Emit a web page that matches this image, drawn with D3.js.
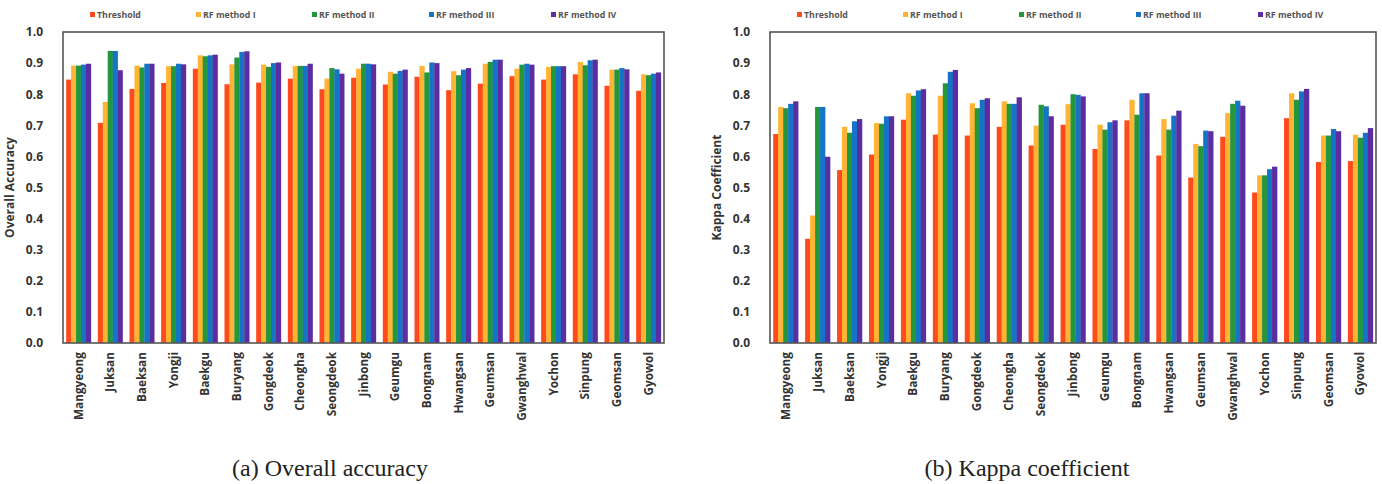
<!DOCTYPE html>
<html>
<head>
<meta charset="utf-8">
<script src="https://cdn.jsdelivr.net/npm/d3@7/dist/d3.min.js"></script>
<style>
  body { margin: 0; background: #fff; }
  svg { display: block; }
</style>
</head>
<body>
<svg class="chart"></svg>
<script>
// sites (x categories)
var sites = ["Mangyeong", "Juksan", "Baeksan", "Yongji", "Baekgu", "Buryang", "Gongdeok",
    "Cheongha", "Seongdeok", "Jinbong", "Geumgu", "Bongnam", "Hwangsan", "Geumsan",
    "Gwanghwal", "Yochon", "Sinpung", "Geomsan", "Gyowol"];

var seriesNames = ["Threshold", "RF method I", "RF method II", "RF method III", "RF method IV"];
var seriesColors = ["#ff4a1c", "#ffb533", "#24963e", "#1674c6", "#5b2da0"];
var yTicks = [0, 0.1, 0.2, 0.3, 0.4, 0.5, 0.6, 0.7, 0.8, 0.9, 1.0];

// (a) overall accuracy
var oaThreshold = [0.847, 0.708, 0.817, 0.836, 0.882, 0.832, 0.837, 0.850, 0.816, 0.853, 0.831, 0.856, 0.813, 0.834, 0.858, 0.847, 0.864, 0.827, 0.811];
var oaRF1 = [0.892, 0.775, 0.892, 0.890, 0.925, 0.896, 0.895, 0.891, 0.850, 0.882, 0.872, 0.891, 0.874, 0.898, 0.882, 0.888, 0.904, 0.879, 0.864];
var oaRF2 = [0.892, 0.939, 0.886, 0.890, 0.922, 0.918, 0.888, 0.891, 0.884, 0.898, 0.866, 0.870, 0.861, 0.904, 0.895, 0.890, 0.893, 0.879, 0.861];
var oaRF3 = [0.895, 0.939, 0.898, 0.898, 0.925, 0.936, 0.900, 0.891, 0.880, 0.898, 0.875, 0.902, 0.879, 0.911, 0.898, 0.890, 0.909, 0.884, 0.866];
var oaRF4 = [0.898, 0.877, 0.898, 0.896, 0.927, 0.938, 0.902, 0.898, 0.866, 0.896, 0.879, 0.900, 0.884, 0.911, 0.895, 0.890, 0.911, 0.880, 0.870];

// (b) kappa coefficient
var kThreshold = [0.672, 0.335, 0.556, 0.606, 0.718, 0.670, 0.667, 0.695, 0.635, 0.702, 0.624, 0.716, 0.603, 0.532, 0.663, 0.484, 0.723, 0.582, 0.585];
var kRF1 = [0.759, 0.410, 0.695, 0.707, 0.803, 0.795, 0.771, 0.777, 0.699, 0.768, 0.702, 0.782, 0.720, 0.640, 0.739, 0.539, 0.803, 0.667, 0.670];
var kRF2 = [0.755, 0.759, 0.676, 0.705, 0.795, 0.835, 0.755, 0.769, 0.766, 0.800, 0.686, 0.734, 0.686, 0.633, 0.769, 0.539, 0.782, 0.667, 0.660];
var kRF3 = [0.769, 0.759, 0.713, 0.729, 0.812, 0.872, 0.782, 0.769, 0.761, 0.798, 0.710, 0.803, 0.731, 0.683, 0.779, 0.559, 0.809, 0.688, 0.676];
var kRF4 = [0.777, 0.599, 0.720, 0.729, 0.816, 0.878, 0.787, 0.790, 0.729, 0.793, 0.716, 0.803, 0.747, 0.681, 0.763, 0.567, 0.817, 0.681, 0.691];

var W = 1382, H = 484;
var svg = d3.select(".chart").attr("width", W).attr("height", H);

drawPanel({left: 63, right: 664, top: 32, bottom: 343,
    yTitle: "Overall Accuracy", caption: "(a) Overall accuracy", captionX: 330,
    series: [oaThreshold, oaRF1, oaRF2, oaRF3, oaRF4]});
drawPanel({left: 770, right: 1376, top: 32, bottom: 343,
    yTitle: "Kappa Coefficient", caption: "(b) Kappa coefficient", captionX: 1027,
    series: [kThreshold, kRF1, kRF2, kRF3, kRF4]});

function drawPanel(p) {
    var g = svg.append("g");

    var x = d3.scaleBand().domain(sites).range([p.left, p.right])
        .paddingInner(0.22).paddingOuter(0.1);
    var xs = d3.scaleBand().domain(d3.range(seriesNames.length)).range([0, x.bandwidth()]);
    var y = d3.scaleLinear().domain([0, 1]).range([p.bottom, p.top]);

    // bars
    var groups = g.append("g").selectAll("g")
        .data(sites)
        .enter().append("g")
        .attr("transform", function(d) { return "translate(" + x(d) + ",0)"; });

    groups.selectAll("rect")
        .data(function(d, i) {
            return p.series.map(function(s, k) { return {k: k, v: s[i]}; });
        })
        .enter().append("rect")
        .attr("x", function(d) { return xs(d.k); })
        .attr("width", xs.bandwidth() + 0.3)
        .attr("y", function(d) { return y(d.v); })
        .attr("height", function(d) { return y(0) - y(d.v); })
        .attr("fill", function(d) { return seriesColors[d.k]; });

    // plot frame
    g.append("rect")
        .attr("x", p.left).attr("y", p.top)
        .attr("width", p.right - p.left).attr("height", p.bottom - p.top)
        .attr("fill", "none").attr("stroke", "#555").attr("stroke-width", 1.6);

    // y axis
    var yAxis = g.append("g")
        .attr("transform", "translate(" + p.left + ",0)")
        .call(d3.axisLeft(y).tickValues(yTicks).tickFormat(d3.format(".1f")).tickSize(0).tickPadding(20));
    yAxis.select(".domain").remove();
    yAxis.selectAll("text")
        .attr("font-family", "'Open Sans', sans-serif").attr("font-weight", "bold")
        .attr("font-size", 12).attr("fill", "#333");

    // x axis
    var xAxis = g.append("g")
        .attr("transform", "translate(0," + p.bottom + ")")
        .call(d3.axisBottom(x).tickSize(0));
    xAxis.select(".domain").remove();
    xAxis.selectAll("text")
        .attr("font-family", "'Open Sans', sans-serif").attr("font-weight", "bold")
        .attr("font-size", 11.8).attr("fill", "#333")
        .attr("text-anchor", "end")
        .attr("transform", "rotate(-90)")
        .attr("x", -9).attr("y", 0).attr("dy", "0.35em");

    // y title
    g.append("text")
        .attr("transform", "translate(" + (p.left - 49) + "," + ((p.top + p.bottom) / 2) + ") rotate(-90)")
        .attr("text-anchor", "middle")
        .attr("font-family", "'Open Sans', sans-serif").attr("font-weight", "bold")
        .attr("font-size", 12).attr("fill", "#333")
        .text(p.yTitle);

    // legend
    var legendOffsets = [27, 133, 249, 366, 488];
    var lg = g.append("g").selectAll("g")
        .data(seriesNames)
        .enter().append("g")
        .attr("transform", function(d, i) { return "translate(" + (p.left + legendOffsets[i]) + ",15)"; });
    lg.append("rect")
        .attr("x", 0).attr("y", -3).attr("width", 5).attr("height", 5)
        .attr("fill", function(d, i) { return seriesColors[i]; });
    lg.append("text")
        .attr("x", 7).attr("y", 0).attr("dy", "0.35em")
        .attr("font-family", "'Open Sans', sans-serif").attr("font-weight", "bold")
        .attr("font-size", 8.8).attr("fill", "#555")
        .text(function(d) { return d; });

    // caption
    g.append("text")
        .attr("x", p.captionX).attr("y", 476)
        .attr("text-anchor", "middle")
        .attr("font-family", "'Liberation Serif', 'Times New Roman', serif")
        .attr("font-size", 24).attr("fill", "#222")
        .text(p.caption);
}
</script>
</body>
</html>
